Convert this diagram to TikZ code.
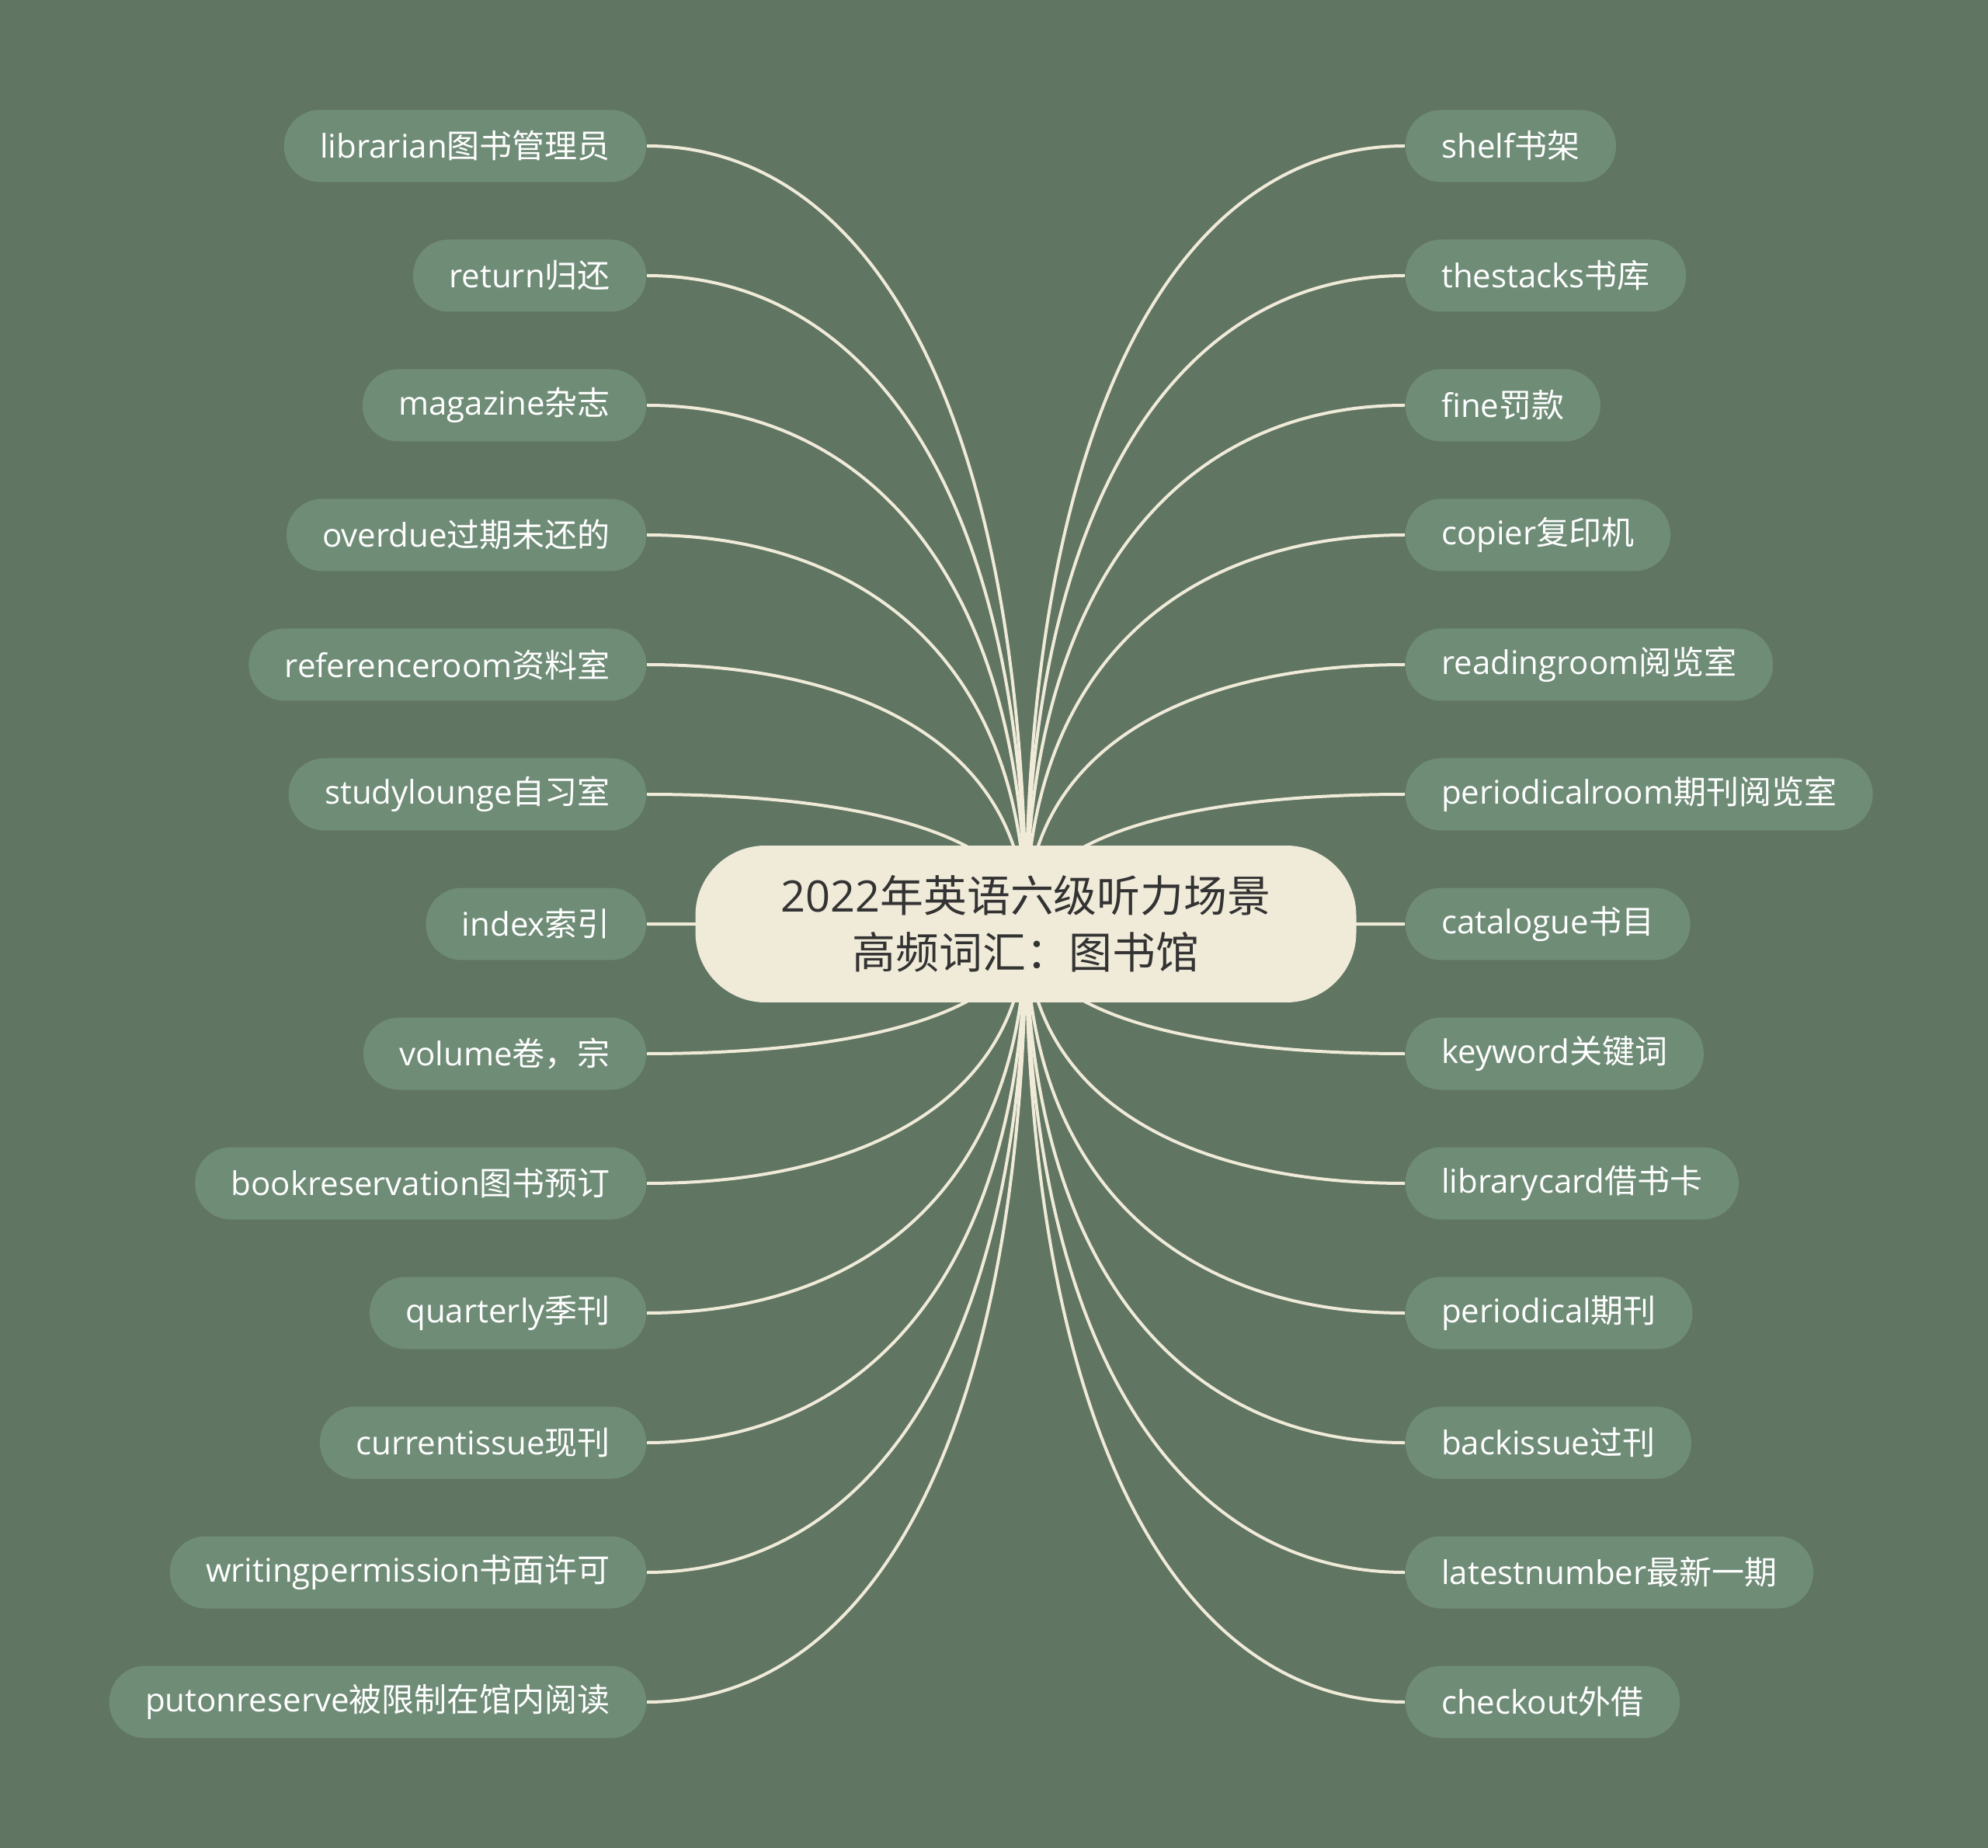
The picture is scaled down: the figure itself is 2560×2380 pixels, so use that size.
\documentclass[tikz,border=0pt]{standalone}
\usepackage{fontspec}
\setmainfont{Open Sans}
\newfontfamily\cjk{Noto Sans CJK SC}
\usetikzlibrary{calc}
\definecolor{BgGreen}{HTML}{607562}
\definecolor{LeafGreen}{HTML}{6F8C77}
\definecolor{Cream}{HTML}{F0EBD9}
\definecolor{Ink}{HTML}{333333}
\newcommand{\zh}[1]{{\cjk #1}}
\pgfdeclarelayer{canvas}
\pgfdeclarelayer{links}
\pgfsetlayers{canvas,links,main}

\begin{document}
\begin{tikzpicture}[x=0.1mm, y=-0.1mm,
  leaf/.style={fill=LeafGreen, text=white, rounded corners=4.6mm, minimum height=9.3mm, inner xsep=4.65mm, inner ysep=0pt, font=\fontsize{11.95}{14}\selectfont},
  left leaf/.style={leaf, anchor=east},
  right leaf/.style={leaf, anchor=west},
  link/.style={draw=Cream, line width=0.4mm}]
\begin{pgfonlayer}{canvas}
\fill[BgGreen] (0,0) rectangle (2560,2380);
\end{pgfonlayer}
\node[fill=Cream, text=Ink, rounded corners=9mm, minimum width=85.1mm, minimum height=20.2mm, align=center, font=\fontsize{15.9}{20.8}\selectfont] (root) at (1321,1190) {2022\zh{年英语六级听力场景}\\\zh{高频词汇：图书馆}};
% left branch
\node[left leaf] (l1) at (833,188) {librarian\zh{图书管理员}};
\node[left leaf] (l2) at (833,355) {return\zh{归还}};
\node[left leaf] (l3) at (833,522) {magazine\zh{杂志}};
\node[left leaf] (l4) at (833,689) {overdue\zh{过期未还的}};
\node[left leaf] (l5) at (833,856) {referenceroom\zh{资料室}};
\node[left leaf] (l6) at (833,1023) {studylounge\zh{自习室}};
\node[left leaf] (l7) at (833,1190) {index\zh{索引}};
\node[left leaf] (l8) at (833,1357) {volume\zh{卷，宗}};
\node[left leaf] (l9) at (833,1524) {bookreservation\zh{图书预订}};
\node[left leaf] (l10) at (833,1691) {quarterly\zh{季刊}};
\node[left leaf] (l11) at (833,1858) {currentissue\zh{现刊}};
\node[left leaf] (l12) at (833,2025) {writingpermission\zh{书面许可}};
\node[left leaf] (l13) at (833,2192) {putonreserve\zh{被限制在馆内阅读}};
% right branch
\node[right leaf] (r1) at (1809,188) {shelf\zh{书架}};
\node[right leaf] (r2) at (1809,355) {thestacks\zh{书库}};
\node[right leaf] (r3) at (1809,522) {fine\zh{罚款}};
\node[right leaf] (r4) at (1809,689) {copier\zh{复印机}};
\node[right leaf] (r5) at (1809,856) {readingroom\zh{阅览室}};
\node[right leaf] (r6) at (1809,1023) {periodicalroom\zh{期刊阅览室}};
\node[right leaf] (r7) at (1809,1190) {catalogue\zh{书目}};
\node[right leaf] (r8) at (1809,1357) {keyword\zh{关键词}};
\node[right leaf] (r9) at (1809,1524) {librarycard\zh{借书卡}};
\node[right leaf] (r10) at (1809,1691) {periodical\zh{期刊}};
\node[right leaf] (r11) at (1809,1858) {backissue\zh{过刊}};
\node[right leaf] (r12) at (1809,2025) {latestnumber\zh{最新一期}};
\node[right leaf] (r13) at (1809,2192) {checkout\zh{外借}};
\begin{pgfonlayer}{links}
\foreach \i in {1,...,13} {
  \draw[link] (l\i.east) .. controls ($(l\i.east)!0.6!(l\i.east -| root.center)$) and ($(root.center)!0.65!(root.center |- l\i.east)$) .. (root.center);
  \draw[link] (r\i.west) .. controls ($(r\i.west)!0.6!(r\i.west -| root.center)$) and ($(root.center)!0.65!(root.center |- r\i.west)$) .. (root.center);
}
\end{pgfonlayer}
\end{tikzpicture}
\end{document}
